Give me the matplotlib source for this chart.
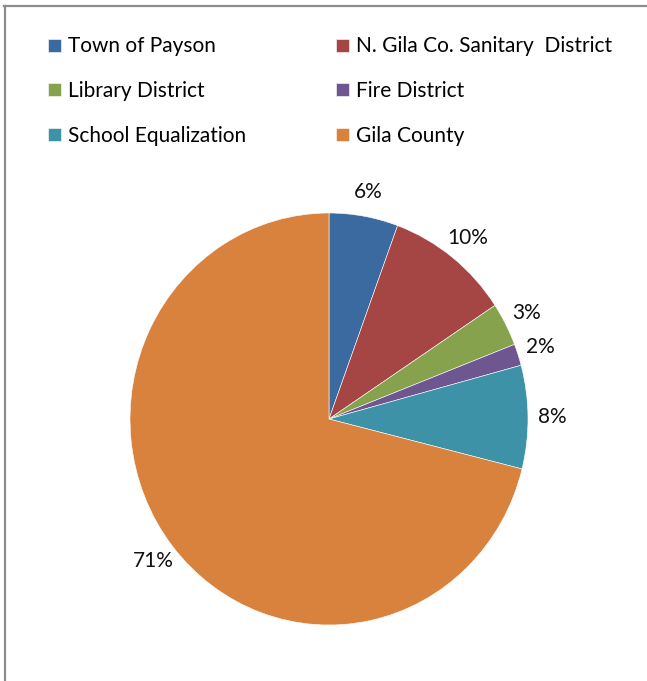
import matplotlib.pyplot as plt
from matplotlib.lines import Line2D

labels = ['Town of Payson', 'N. Gila Co. Sanitary  District', 'Library District',
          'Fire District', 'School Equalization', 'Gila County']
values = [5.6, 10.1, 3.4, 1.7, 8.1, 71.1]
colors = ['#3A6AA0', '#A54644', '#87A24C', '#6E5690', '#3E92A8', '#D8823E']

plt.rcParams['font.family'] = ['Lato', 'DejaVu Sans']

fig = plt.figure(figsize=(6.47, 6.81), dpi=100)
ax = fig.add_axes([130/647, 56/681, 398/647, 412/681])
wedges, texts, autotexts = ax.pie(values, colors=colors, startangle=90, counterclock=False,
                                  autopct='%1.0f%%', pctdistance=1.12,
                                  wedgeprops=dict(edgecolor='white', linewidth=0.4),
                                  textprops=dict(fontsize=15, color='#111111'))
ax.set_aspect('auto')
ax.set_xlim(-1, 1)
ax.set_ylim(-1, 1)

# legend in two columns: left = 0,2,4 ; right = 1,3,5
kw = dict(loc='upper left', frameon=False, fontsize=15, borderpad=0,
          handlelength=0.58, handleheight=0.58, handletextpad=0.34, labelspacing=1.18)
leg1 = fig.legend([wedges[i] for i in (0, 2, 4)], [labels[i] for i in (0, 2, 4)],
                  bbox_to_anchor=(38/647, 1 - 26/681), **kw)
leg2 = fig.legend([wedges[i] for i in (1, 3, 5)], [labels[i] for i in (1, 3, 5)],
                  bbox_to_anchor=(326/647, 1 - 26/681), **kw)

# chart frame (only top and left visible)
fig.add_artist(Line2D([4/647, 1], [1 - 5.5/681, 1 - 5.5/681], color='#8c8c8c', lw=1.6,
                      transform=fig.transFigure))
fig.add_artist(Line2D([4.5/647, 4.5/647], [0, 1 - 5.5/681], color='#8c8c8c', lw=1.6,
                      transform=fig.transFigure))

plt.savefig('out.png', dpi=100)
